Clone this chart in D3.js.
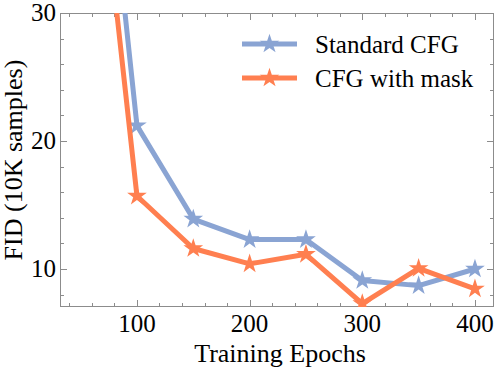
<!DOCTYPE html>
<html>
<head>
<meta charset="utf-8">
<script src="https://cdn.jsdelivr.net/npm/d3@7"></script>
<style>
  body { margin: 0; background: #fff; }
  text { font-family: "Liberation Serif", "Times New Roman", serif; }
</style>
</head>
<body>
<div id="chart"></div>
<script>
// data
var epochs = [50, 100, 150, 200, 250, 300, 350, 400]
var standardCFG = [62.6, 21.2, 13.9, 12.3, 12.3, 9.1, 8.7, 10.0]
var maskCFG = [55.7, 15.7, 11.6, 10.4, 11.15, 7.3, 10.05, 8.45]
var seriesNames = ["Standard CFG", "CFG with mask"]
var seriesColors = ["#8aa4d3", "#ff7f50"]
var xTicks = [100, 200, 300, 400]
var yTicks = [10, 20, 30]

var W = 498, H = 372
// plot box (window.top is read-only, so no "top" here)
var pLeft = 60, pRight = 494, pTop = 13, pBottom = 307

var svg = d3.select("#chart").append("svg")
	.attr("width", W)
	.attr("height", H)

var x = d3.scaleLinear().domain([31.7, 416.9]).range([pLeft, pRight])
var y = d3.scaleLinear().domain([7.03, 30]).range([pBottom, pTop])

// clip for lines going out of the top
svg.append("clipPath").attr("id", "clip")
	.append("rect")
	.attr("x", pLeft).attr("y", pTop)
	.attr("width", pRight - pLeft).attr("height", pBottom - pTop)

// frame ticks (inward, mirrored)
var frameColor = "#8c8c8c"
var xMinor = d3.range(40, 417, 20)
var yMinor = d3.range(8, 30.1, 2)

var axisG = svg.append("g")
function tickLen(v, majors) { return majors.indexOf(v) >= 0 ? 7 : 4 }

axisG.selectAll(".xt").data(xMinor).enter().append("path")
	.attr("d", function(d) {
		var px = Math.round(x(d)) + 0.5, l = tickLen(d, xTicks)
		return "M" + px + "," + pBottom + "V" + (pBottom - l) + "M" + px + "," + pTop + "V" + (pTop + l)
	})
	.attr("stroke", frameColor).attr("stroke-width", 1)

axisG.selectAll(".yt").data(yMinor).enter().append("path")
	.attr("d", function(d) {
		var py = Math.round(y(d)) + 0.5, l = tickLen(d, yTicks)
		return "M" + pLeft + "," + py + "H" + (pLeft + l) + "M" + pRight + "," + py + "H" + (pRight - l)
	})
	.attr("stroke", frameColor).attr("stroke-width", 1)

axisG.append("rect")
	.attr("x", pLeft + 0.5).attr("y", pTop + 0.5)
	.attr("width", pRight - pLeft - 1).attr("height", pBottom - pTop - 1)
	.attr("fill", "none").attr("stroke", frameColor).attr("stroke-width", 1)

// tick labels
svg.selectAll(".xl").data(xTicks).enter().append("text")
	.attr("x", function(d) { return x(d) })
	.attr("y", 332)
	.attr("text-anchor", "middle")
	.attr("font-size", 25)
	.text(function(d) { return d })

svg.selectAll(".yl").data(yTicks).enter().append("text")
	.attr("x", 56)
	.attr("y", function(d) { return y(d) + 8 })
	.attr("text-anchor", "end")
	.attr("font-size", 25)
	.text(function(d) { return d })

// axis titles
svg.append("text")
	.attr("x", (pLeft + pRight) / 2 + 3)
	.attr("y", 362)
	.attr("text-anchor", "middle")
	.attr("font-size", 26)
	.text("Training Epochs")

svg.append("text")
	.attr("transform", "translate(22," + ((pTop + pBottom) / 2) + ") rotate(-90)")
	.attr("text-anchor", "middle")
	.attr("font-size", 26)
	.text("FID (10K samples)")

// series
var star = d3.symbol().type(d3.symbolStar).size(120)
var line = d3.line()
	.x(function(d) { return x(d[0]) })
	.y(function(d) { return y(d[1]) })

var allSeries = [standardCFG, maskCFG]
var plotG = svg.append("g").attr("clip-path", "url(#clip)")

allSeries.forEach(function(vals, i) {
	var pts = epochs.map(function(e, j) { return [e, vals[j]] })
	plotG.append("path")
		.attr("d", line(pts))
		.attr("fill", "none")
		.attr("stroke", seriesColors[i])
		.attr("stroke-width", 5)
		.attr("stroke-linejoin", "round")
	plotG.selectAll(".pt" + i).data(pts).enter().append("path")
		.attr("d", star)
		.attr("transform", function(d) { return "translate(" + x(d[0]) + "," + y(d[1]) + ")" })
		.attr("fill", seriesColors[i])
})

// legend
var legend = svg.append("g")
seriesNames.forEach(function(name, i) {
	var ly = 44 + i * 34
	legend.append("line")
		.attr("x1", 242).attr("x2", 297)
		.attr("y1", ly).attr("y2", ly)
		.attr("stroke", seriesColors[i])
		.attr("stroke-width", 5)
	legend.append("path")
		.attr("d", star)
		.attr("transform", "translate(269.5," + ly + ")")
		.attr("fill", seriesColors[i])
	legend.append("text")
		.attr("x", 315)
		.attr("y", ly + 9)
		.attr("font-size", 25)
		.text(name)
})
</script>
</body>
</html>
